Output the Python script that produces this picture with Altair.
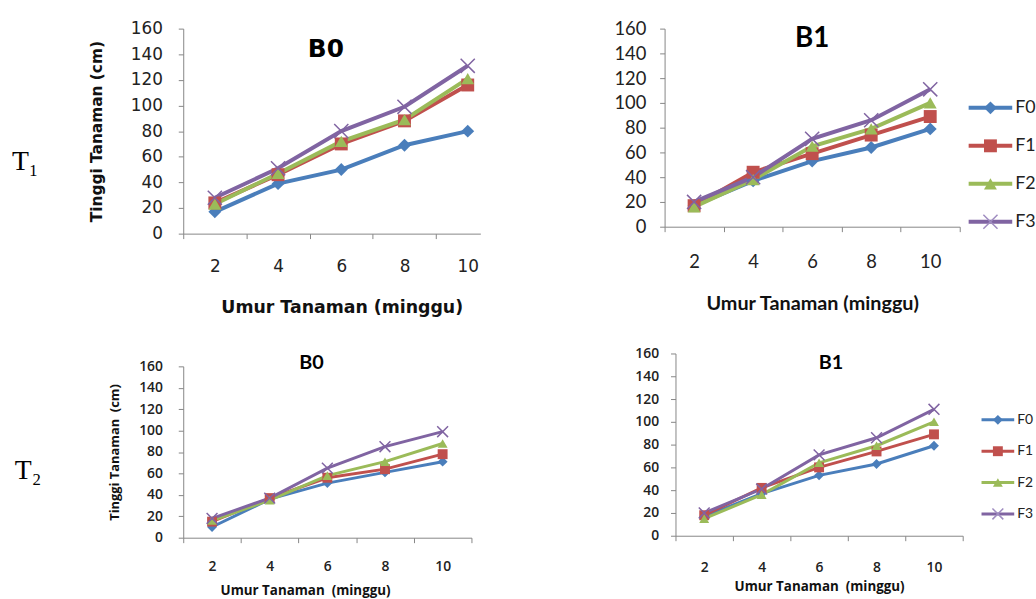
import altair as alt
import pandas as pd

weeks = [2, 4, 6, 8, 10]
series = ["F0", "F1", "F2", "F3"]
colors = ["#4A7EBB", "#C0504D", "#9BBB59", "#8064A2"]

# T1 - B0
t1_b0_f0 = [17, 39, 50, 69, 80]
t1_b0_f1 = [24, 46, 70, 88, 116]
t1_b0_f2 = [23, 47, 72, 89, 121]
t1_b0_f3 = [28, 51, 80, 99, 131]
# T1 - B1
t1_b1_f0 = [17, 37, 53, 64, 79]
t1_b1_f1 = [17, 44, 59, 74, 89]
t1_b1_f2 = [16, 38, 65, 79, 100]
t1_b1_f3 = [20, 40, 71, 86, 111]
# T2 - B0
t2_b0_f0 = [10, 36, 51, 61, 71]
t2_b0_f1 = [15, 37, 56, 64, 78]
t2_b0_f2 = [16, 35, 58, 71, 88]
t2_b0_f3 = [18, 37, 65, 85, 99]
# T2 - B1
t2_b1_f0 = [17, 37, 53, 63, 79]
t2_b1_f1 = [18, 42, 60, 74, 89]
t2_b1_f2 = [15, 36, 64, 79, 100]
t2_b1_f3 = [20, 41, 71, 86, 111]

y_ticks = [0, 20, 40, 60, 80, 100, 120, 140, 160]
x_title_top = "Umur Tanaman (minggu)"
y_title_top = "Tinggi Tanaman (cm)"
x_title_bot = "Umur Tanaman\u00a0 (minggu)"
y_title_bot = "Tinggi Tanaman\u00a0 (cm)"

X_PATH = "M-1,-1L1,1M-1,1L1,-1"
AXIS_GREY = "#868686"


def make_df(vals):
    rows = []
    for s, v in zip(series, vals):
        for w, y in zip(weeks, v):
            rows.append({"minggu": w, "tinggi": y, "seri": s})
    return pd.DataFrame(rows)


def panel(df, title, width, height, xmax, p):
    xvals = list(range(1, int(xmax) + 1))
    color = alt.Color("seri:N", scale=alt.Scale(domain=series, range=colors),
                      legend=None)
    x = alt.X(
        "minggu:Q",
        scale=alt.Scale(domain=[1, xmax], nice=False, zero=False),
        axis=alt.Axis(
            values=xvals,
            labelExpr="datum.value % 2 == 0 ? datum.label : ''",
            tickOpacity={"condition": {"test": "datum.value % 2 == 1", "value": 1},
                         "value": 0},
            grid=False, domainColor=AXIS_GREY, tickColor=AXIS_GREY, tickSize=5,
            labelFont=p["tick_font"], labelFontSize=p["tick_size"],
            labelFontWeight=p.get("tick_weight", "normal"),
            labelColor="#222222", labelPadding=p["x_label_pad"],
            title=p["x_title"], titleFont=p["xt_font"],
            titleFontSize=p["xt_size"], titleFontWeight="bold",
            titleColor="#111111", titlePadding=p["x_title_pad"],
            titleX=p["x_title_x"],
        ),
    )
    yaxis_kwargs = dict(
        values=y_ticks, grid=False, domainColor=AXIS_GREY, tickColor=AXIS_GREY,
        tickSize=5, labelFont=p["tick_font"], labelFontSize=p["tick_size"],
        labelFontWeight=p.get("tick_weight", "normal"),
        labelColor="#222222", labelPadding=p["y_label_pad"],
    )
    ytitle = p.get("y_title")
    if ytitle:
        yaxis_kwargs.update(title=ytitle, titleFont=p["yt_font"],
                            titleFontSize=p["yt_size"], titleFontWeight="bold",
                            titleColor="#111111", titlePadding=p["yt_pad"])
    y = alt.Y("tinggi:Q", scale=alt.Scale(domain=[0, 160], nice=False),
              axis=alt.Axis(**yaxis_kwargs), title=ytitle if ytitle else None)

    base = alt.Chart(df).encode(x=x, y=y, color=color)
    lines = base.mark_line(strokeWidth=p["line_w"])
    pts = base.transform_filter("datum.seri != 'F3'").mark_point(
        filled=True, opacity=1, size=p["marker"]
    ).encode(shape=alt.Shape("seri:N", scale=alt.Scale(
        domain=["F0", "F1", "F2"], range=["diamond", "square", "triangle-up"]),
        legend=None))
    xs = base.transform_filter("datum.seri == 'F3'").mark_point(
        shape=X_PATH, filled=False, opacity=1, size=p["marker"] * 1.2,
        strokeWidth=1.5, color="#9F8CC0")
    layers = [lines, pts, xs]
    if p.get("label_text"):
        lab = alt.Chart(pd.DataFrame({"t": [p["label_text"]]})).mark_text(
            align="left", baseline="middle", font="Liberation Serif",
            fontSize=28, color="#000000"
        ).encode(text="t:N", x=alt.value(p["label_x"]),
                 y=alt.value(p["label_y"]))
        layers.append(lab)
    return alt.layer(*layers).properties(
        width=width, height=height,
        title=alt.TitleParams(title, font=p["title_font"],
                              fontSize=p["title_size"], fontWeight="bold",
                              color="#000000", offset=p["title_offset"],
                              dx=p["title_dx"], anchor="middle"),
    )


def legend_chart(height, rng, font, size, line_w, marker, seg):
    ldf = pd.DataFrame({"seri": series})
    yenc = alt.Y("seri:N", axis=None,
                 scale=alt.Scale(type="point", domain=series, range=rng,
                                 padding=0))
    color = alt.Color("seri:N", scale=alt.Scale(domain=series, range=colors),
                      legend=None)
    base = alt.Chart(ldf).encode(y=yenc)
    rule = base.mark_rule(strokeWidth=line_w).encode(
        x=alt.value(0), x2=alt.value(seg), color=color)
    pts = base.transform_filter("datum.seri != 'F3'").mark_point(
        filled=True, opacity=1, size=marker).encode(
        x=alt.value(seg / 2), color=color,
        shape=alt.Shape("seri:N", scale=alt.Scale(
            domain=["F0", "F1", "F2"],
            range=["diamond", "square", "triangle-up"]), legend=None))
    xs = base.transform_filter("datum.seri == 'F3'").mark_point(
        shape=X_PATH, filled=False, opacity=1, size=marker * 1.2,
        strokeWidth=1.5, color="#9F8CC0").encode(x=alt.value(seg / 2))
    txt = base.mark_text(align="left", baseline="middle", font=font,
                         fontSize=size, color="#222222").encode(
        x=alt.value(seg + 3), text="seri:N")
    return alt.layer(rule, pts, xs, txt).properties(width=50, height=height)


b0_top = panel(
    make_df([t1_b0_f0, t1_b0_f1, t1_b0_f2, t1_b0_f3]), "B0", 300, 207, 10.4,
    dict(tick_font="DejaVu Sans", tick_size=17, x_label_pad=20,
         y_label_pad=16, x_title=x_title_top, xt_font="DejaVu Sans",
         xt_size=17.5, x_title_pad=25, x_title_x=160,
         y_title=y_title_top, yt_font="DejaVu Sans", yt_size=15.5, yt_pad=26,
         title_font="DejaVu Sans", title_size=25, title_offset=-43,
         title_dx=-6, line_w=4, marker=170,
         label_text="T\u2081", label_x=-173, label_y=135))
b1_top = panel(
    make_df([t1_b1_f0, t1_b1_f1, t1_b1_f2, t1_b1_f3]), "B1", 298, 200, 11,
    dict(tick_font="Lato", tick_size=18.5, x_label_pad=21,
         y_label_pad=14, x_title=x_title_top, xt_font="Lato",
         xt_size=20, x_title_pad=23, x_title_x=149,
         title_font="Lato", title_size=28, title_offset=-34, title_dx=0,
         line_w=4, marker=170))
b0_bot = panel(
    make_df([t2_b0_f0, t2_b0_f1, t2_b0_f2, t2_b0_f3]), "B0", 291, 173, 11,
    dict(tick_font="Open Sans", tick_size=14, tick_weight=600, x_label_pad=17,
         y_label_pad=16, x_title=x_title_bot, xt_font="Open Sans",
         xt_size=13.5, x_title_pad=10, x_title_x=123,
         y_title=y_title_bot, yt_font="Open Sans", yt_size=13, yt_pad=17,
         title_font="Lato", title_size=20, title_offset=-14, title_dx=-16,
         line_w=3, marker=100,
         label_text="T\u2082", label_x=-170, label_y=106))
b1_bot = panel(
    make_df([t2_b1_f0, t2_b1_f1, t2_b1_f2, t2_b1_f3]), "B1", 290, 184, 11,
    dict(tick_font="Open Sans", tick_size=14, tick_weight=600, x_label_pad=20,
         y_label_pad=12, x_title=x_title_bot, xt_font="Open Sans",
         xt_size=13.5, x_title_pad=5, x_title_x=145,
         title_font="Lato", title_size=20, title_offset=-27, title_dx=12,
         line_w=3, marker=100))

leg_top = legend_chart(200, [80, 195], "Lato", 18, 4, 170, 44)
leg_bot = legend_chart(184, [67, 162], "Lato", 14, 3, 100, 33)

spacer = alt.Chart(pd.DataFrame({"a": [0]})).mark_text(text="").encode(
    x=alt.value(0), y=alt.value(0)).properties(width=1, height=13)

row1 = alt.hconcat(b0_top, alt.hconcat(b1_top, leg_top, spacing=6),
                   spacing=134)
row2 = alt.hconcat(alt.vconcat(spacer, b0_bot, spacing=0, bounds="flush"),
                   alt.hconcat(b1_bot, leg_bot, spacing=16), spacing=163)

chart = alt.vconcat(row1, row2, spacing=30).properties(
    padding={"left": 12, "top": 17, "right": 0, "bottom": 0},
    background="white",
).configure_view(stroke=None)

chart.save("out.html", embed_options={"renderer": "svg", "actions": False})
